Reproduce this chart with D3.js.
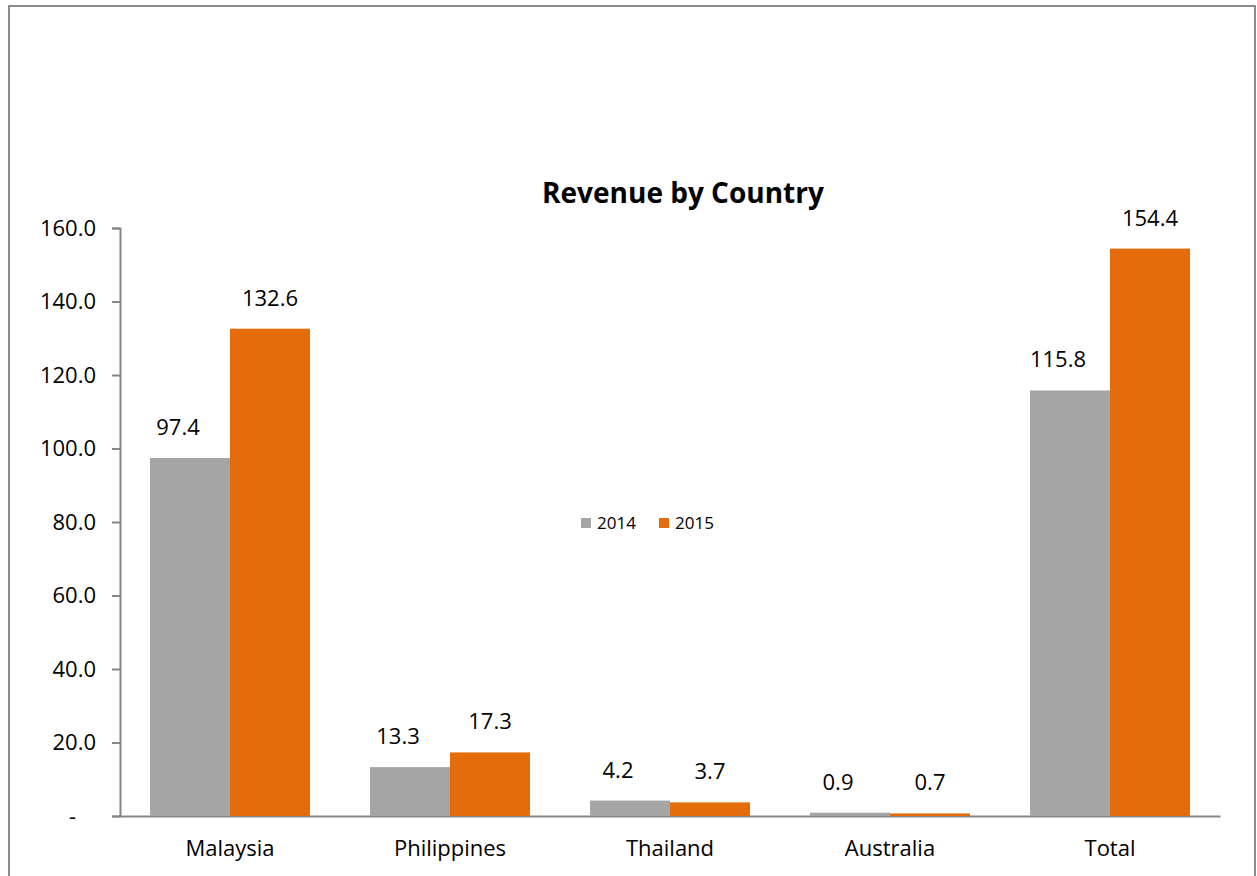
<!DOCTYPE html>
<html>
<head>
<meta charset="utf-8">
<script src="https://cdn.jsdelivr.net/npm/d3@7"></script>
<style>
body { margin: 0; background: #fff; }
svg { display: block; font-family: "Open Sans", "Noto Sans", sans-serif; }
</style>
</head>
<body>
<svg width="1257" height="876"></svg>
<script>
// data
var countries = ["Malaysia", "Philippines", "Thailand", "Australia", "Total"]
var years = ["2014", "2015"]
var rev2014 = [97.4, 13.3, 4.2, 0.9, 115.8]
var rev2015 = [132.6, 17.3, 3.7, 0.7, 154.4]
var yTicks = [0, 20, 40, 60, 80, 100, 120, 140, 160]
var colors = ["#a5a5a5", "#e46c0a"]

var svg = d3.select("svg")

// outer chart border
svg.append("rect")
    .attr("x", 9).attr("y", 6)
    .attr("width", 1246).attr("height", 900)
    .attr("fill", "none")
    .attr("stroke", "#8c8c8c")
    .attr("stroke-width", 2)

var x = d3.scaleBand()
    .domain(countries)
    .range([120, 1220])

var inner = d3.scaleBand()
    .domain(years)
    .range([30, 190])

var y = d3.scaleLinear()
    .domain([0, 160])
    .range([816, 228])

svg.append("text")
    .attr("x", 683).attr("y", 203)
    .attr("text-anchor", "middle")
    .attr("font-weight", "bold")
    .attr("font-size", 28)
    .text("Revenue by Country")

// y axis
let yAxis = d3.axisLeft(y)
    .tickValues(yTicks)
    .tickSize(8)
    .tickPadding(16)
    .tickFormat((d) => d == 0 ? "-" : d3.format(".1f")(d))

let gy = svg.append("g")
    .attr("transform", "translate(120,0)")
    .call(yAxis)
gy.select(".domain").attr("stroke", "#868686").attr("stroke-width", 2)
gy.selectAll(".tick line").attr("stroke", "#868686").attr("stroke-width", 2)
gy.selectAll(".tick text")
    .attr("font-size", 22)
    .attr("fill", "#000")
    .attr("font-family", "Open Sans, sans-serif")
    .attr("dx", (d) => d == 0 ? -20 : 0)

// x axis
let xAxis = d3.axisBottom(x).tickSize(0).tickPadding(24)
let gx = svg.append("g")
    .attr("transform", "translate(0,816)")
    .call(xAxis)
gx.select(".domain").attr("stroke", "#868686").attr("stroke-width", 2)
gx.selectAll(".tick text")
    .attr("font-size", 22)
    .attr("fill", "#000")
    .attr("font-family", "Open Sans, sans-serif")

var series = [rev2014, rev2015]

series.forEach(function (vals, i) {
    let g = svg.append("g")
    g.selectAll("rect")
        .data(vals)
        .enter()
        .append("rect")
        .attr("x", (d, j) => x(countries[j]) + inner(years[i]))
        .attr("y", (d) => y(d))
        .attr("width", inner.bandwidth())
        .attr("height", (d) => y(0) - y(d))
        .attr("fill", colors[i])

    g.selectAll("text")
        .data(vals)
        .enter()
        .append("text")
        .attr("x", (d, j) => x(countries[j]) + inner(years[i]) + inner.bandwidth() / 2 - (i == 0 ? 12 : 0))
        .attr("y", (d) => y(d) - 23)
        .attr("text-anchor", "middle")
        .attr("font-size", 22)
        .text((d) => d3.format(".1f")(d))
})

// legend
let legend = svg.append("g").attr("transform", "translate(581,518)")
years.forEach(function (yr, i) {
    let lg = legend.append("g").attr("transform", "translate(" + (i * 78) + ",0)")
    lg.append("rect").attr("width", 10).attr("height", 10).attr("fill", colors[i])
    lg.append("text")
        .attr("x", 16).attr("y", 11)
        .attr("font-size", 17)
        .text(yr)
})
</script>
</body>
</html>
